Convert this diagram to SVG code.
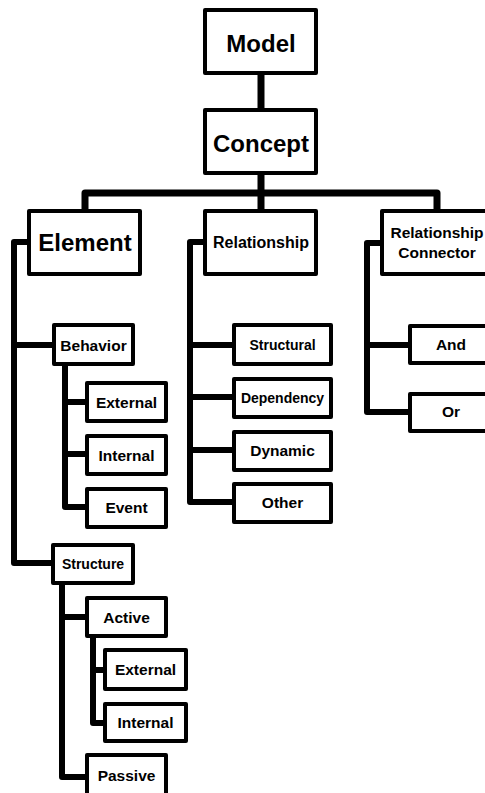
<svg xmlns="http://www.w3.org/2000/svg" width="485" height="793" viewBox="0 0 485 793">
<style>
.box{fill:#fff;stroke:#000;stroke-width:4;stroke-linejoin:round}
.c{fill:none;stroke:#000;stroke-width:6;stroke-linejoin:round}
.ct{stroke-width:7}
text{font-family:"Liberation Sans",Arial,sans-serif;font-weight:bold;fill:#000;text-anchor:middle}
.big{font-size:24px}
.md{font-size:15.5px}
.sm{font-size:14px}
</style>
<rect width="485" height="793" fill="#fff"/>
<g id="connectors">
<path class="c ct" d="M261 75V108"/>
<path class="c ct" d="M261 175V193M85 209V193H437V209M261 193V209"/>
<path class="c" d="M27 242H14V563H51M14 345H52"/>
<path class="c" d="M65 366V507H85M65 402H85M65 454H85"/>
<path class="c" d="M203 242H190V502H232M190 345H232M190 397H232M190 450H232"/>
<path class="c" d="M380 243H367V412H408M367 345H408"/>
<path class="c" d="M62 585V777H85M62 617H85"/>
<path class="c" d="M93 638V723H103M93 670H103"/>
</g>
<g id="model"><rect class="box" x="205" y="10" width="111" height="63"/><text class="big" x="261" y="52">Model</text></g>
<g id="concept"><rect class="box" x="205" y="110" width="111" height="63"/><text class="big" x="261" y="152">Concept</text></g>
<g id="element"><rect class="box" x="29" y="211" width="111" height="63"/><text class="big" x="85" y="251">Element</text></g>
<g id="relationship"><rect class="box" x="205" y="211" width="111" height="63"/><text x="261" y="248" style="font-size:16px">Relationship</text></g>
<g id="relationship-connector"><rect class="box" x="382" y="211" width="111" height="63"/><text class="md" x="437" y="238">Relationship</text><text class="md" x="437" y="258">Connector</text></g>
<g id="behavior"><rect class="box" x="54" y="325" width="79" height="39"/><text class="md" x="93.5" y="351">Behavior</text></g>
<g id="behavior-external"><rect class="box" x="87" y="383" width="79" height="38"/><text class="md" x="126.5" y="408">External</text></g>
<g id="behavior-internal"><rect class="box" x="87" y="436" width="79" height="38"/><text class="md" x="126.5" y="461">Internal</text></g>
<g id="event"><rect class="box" x="87" y="489" width="79" height="38"/><text class="md" x="126.5" y="513">Event</text></g>
<g id="structural"><rect class="box" x="234" y="325" width="97" height="39"/><text class="sm" x="282.5" y="350">Structural</text></g>
<g id="dependency"><rect class="box" x="234" y="379" width="97" height="38"/><text class="sm" x="282.5" y="403">Dependency</text></g>
<g id="dynamic"><rect class="box" x="234" y="432" width="97" height="38"/><text class="md" x="282.5" y="456">Dynamic</text></g>
<g id="other"><rect class="box" x="234" y="484" width="97" height="38"/><text class="md" x="282.5" y="508">Other</text></g>
<g id="and"><rect class="box" x="410" y="326" width="82" height="37"/><text class="md" x="451" y="350">And</text></g>
<g id="or"><rect class="box" x="410" y="394" width="82" height="37"/><text class="md" x="451" y="417">Or</text></g>
<g id="structure"><rect class="box" x="53" y="545" width="80" height="38"/><text class="sm" x="93" y="569">Structure</text></g>
<g id="active"><rect class="box" x="87" y="598" width="79" height="38"/><text class="md" x="126.5" y="623">Active</text></g>
<g id="active-external"><rect class="box" x="105" y="650" width="81" height="39"/><text class="md" x="145.5" y="675">External</text></g>
<g id="active-internal"><rect class="box" x="105" y="704" width="81" height="37"/><text class="md" x="145.5" y="728">Internal</text></g>
<g id="passive"><rect class="box" x="87" y="755" width="79" height="40"/><text class="md" x="126.5" y="781">Passive</text></g>
</svg>
